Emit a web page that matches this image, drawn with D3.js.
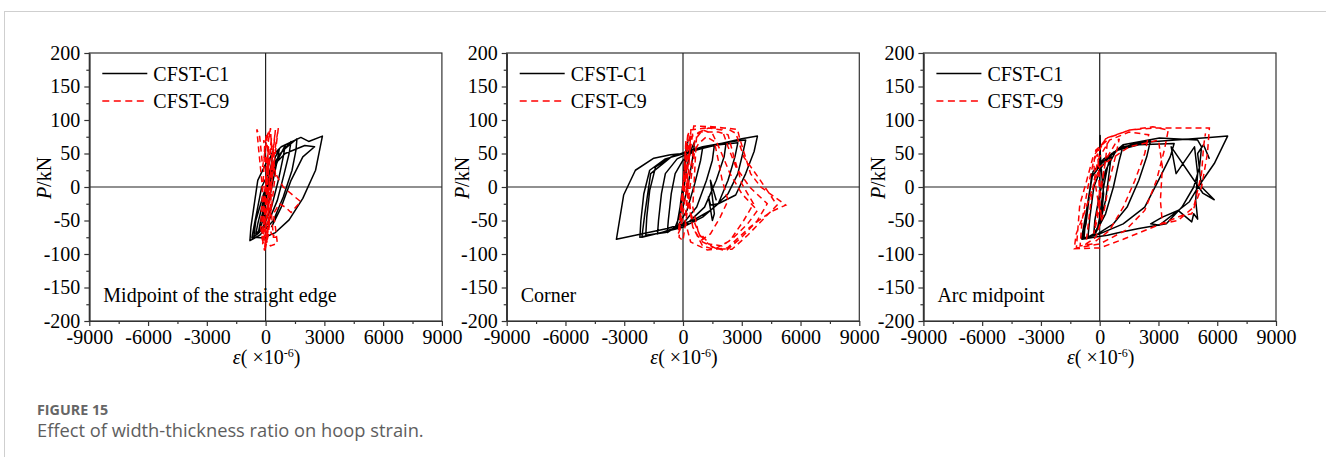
<!DOCTYPE html>
<html><head><meta charset="utf-8">
<script src="https://cdn.jsdelivr.net/npm/d3@7"></script>
<style>
html,body{margin:0;padding:0;background:#fff;}
svg{display:block;}
</style></head>
<body>
<svg id="c" width="1326" height="457"></svg>
<script>
// ---------- data ----------
const panelNames = ["Midpoint of the straight edge", "Corner", "Arc midpoint"];
const seriesNames = ["CFST-C1", "CFST-C9"];
const xTicks = [-9000, -6000, -3000, 0, 3000, 6000, 9000];
const yTicks = [-200, -150, -100, -50, 0, 50, 100, 150, 200];
const xMinor = [-7500, -4500, -1500, 1500, 4500, 7500];
const yMinor = [-175, -125, -75, -25, 25, 75, 125, 175];

// [strain (x10^-6), P (kN)]
const midC1 = [
[0,0],[100,25],[250,45],[400,55],[300,35],[100,5],[-100,-30],[-200,-50],[-100,-40],[50,-15],[250,20],[500,45],[700,57],[600,40],[350,5],[100,-30],[-200,-55],[-350,-65],[-250,-50],[0,-20],[300,15],[700,45],[1000,62],[900,45],[650,10],[300,-30],[-100,-58],[-500,-70],[-400,-55],[-150,-25],[200,15],[700,48],[1300,68],[1200,50],[950,20],[600,-20],[100,-55],[-400,-70],[-700,-76],[-600,-60],[-400,-30],[-200,0],[300,30],[900,55],[1600,72],[1550,55],[1350,25],[900,-15],[400,-50],[-300,-72],[-800,-80],[-750,-60],[-550,-20],[-400,10],[100,40],[800,60],[1800,74],[2200,68],[2900,76],[2550,25],[1900,-17],[1200,-49],[500,-68],[-100,-76],[-600,-75],[-500,-50],[-100,-10],[500,35],[1000,50],[2000,62],[2500,60],[1900,45],[1300,10],[800,-30],[300,-60]
];
const midC9 = [
[0,0],[80,30],[150,60],[100,30],[0,-10],[-100,-45],[-150,-65],[-50,-40],[80,0],[200,45],[300,75],[250,50],[100,10],[-50,-40],[-200,-75],[-100,-85],[50,-40],[200,10],[400,60],[500,85],[400,55],[200,10],[0,-45],[-150,-85],[-50,-95],[100,-60],[250,-10],[450,40],[650,88],[500,60],[300,20],[150,-30],[0,-75],[-50,-92],[100,-70],[300,-30],[500,20],[300,65],[150,85],[0,60],[-150,30],[-300,75],[-450,86],[-350,55],[-200,10],[-100,-40],[50,-80],[250,-88],[600,-84],[500,-60],[400,-40],[700,-25],[1000,-30],[1300,-38],[1600,-28],[1800,-22],[1500,-15],[900,0],[600,15],[400,30],[200,-10],[100,-50],[300,-70],[600,-75],
[400,-75],[300,-40],[200,10],[100,50],[50,80],[-50,60],[-100,20],[-200,-30],[-250,-60],[-150,-80],[0,-90],[150,-70],[250,-30],[350,20],[300,60],[250,88],[150,70],[50,30],[-50,-10],[-150,-50],[-100,-75],[50,-85],[150,-50],[100,0],[0,45],[-100,70]
];
const cornerC1 = [
[0,0],[50,30],[150,55],[250,70],[150,40],[0,5],[-150,-30],[-300,-55],[-200,-40],[0,-10],[200,30],[400,55],[600,68],[500,45],[300,10],[0,-30],[-400,-60],[-800,-68],[-750,-50],[-600,-10],[-400,20],[0,40],[600,55],[1000,58],[900,40],[600,5],[200,-35],[-300,-60],[-1300,-70],[-1250,-50],[-1100,-10],[-900,20],[-300,42],[600,55],[1600,62],[1500,40],[1200,10],[700,-30],[0,-55],[-900,-68],[-1900,-72],[-1850,-45],[-1700,-5],[-1400,30],[-600,45],[500,56],[2200,66],[2100,45],[1700,10],[1100,-30],[200,-55],[-800,-66],[-2200,-75],[-2150,-50],[-2000,-10],[-1700,25],[-900,42],[300,52],[1500,62],[2800,66],[2650,45],[2300,10],[1800,-25],[1000,-45],[0,-60],[-1100,-68],[-2100,-75],[-1950,-40],[-1650,20],[-600,45],[1000,60],[2500,68],[3200,70],[3050,50],[2800,20],[2300,-10],[1400,-35],[500,-50],[-800,-62],[-3400,-78],[-3030,-12],[-2430,25],[-1490,43],[-640,48],[0,50],[1500,62],[3000,72],[3800,76],[3630,53],[3200,20],[2690,-12],[1800,-25],[1410,-27],[1300,-15],[1500,-50],[1600,-40],[1400,10],[1700,-20]
];
const cornerC9 = [
[0,0],[80,35],[150,70],[100,40],[0,0],[-100,-35],[-200,-60],[-100,-45],[50,-10],[200,40],[250,80],[150,50],[0,5],[-150,-45],[-250,-70],[-100,-60],[100,-20],[300,30],[400,85],[250,55],[50,10],[-100,-40],[-200,-75],[0,-80],[200,-40],[400,10],[600,55],[800,65],[1200,75],[1600,68],[1800,40],[2000,10],[2300,-20],[1900,-45],[1400,-70],[900,-80],[500,-60],[300,-20],[200,30],[400,75],[900,82],[1800,82],[2300,78],[2600,45],[3000,5],[3600,-25],[3100,-50],[2400,-80],[1600,-93],[1000,-88],[500,-60],[200,-10],[100,40],[300,85],[1200,88],[2200,88],[2700,80],[3100,45],[3900,12],[4800,-27],[4200,-45],[3300,-72],[2500,-93],[1700,-92],[1000,-82],[400,-40],[200,20],[550,91],[1500,90],[2780,86],[2900,72],[3450,20],[3970,0],[5250,-27],[4480,-37],[3450,-59],[2260,-91],[1240,-94],[390,-82],[100,-50],
[300,10],[600,70],[1000,85],[1500,80],[1900,55],[2400,20],[3000,-10],[3800,-35],[3300,-55],[2600,-75],[2000,-88],[1300,-85],[800,-70],[500,-30],[700,80],[1300,88],[2000,85],[2300,60],[2700,30],[3400,0],[4300,-25],[3800,-50],[3000,-75],[2200,-95],[1500,-90],[900,-70]
];
const arcC1 = [
[0,0],[10,40],[20,77],[30,50],[100,20],[200,-10],[100,-40],[-100,-60],[0,-45],[200,0],[400,30],[600,50],[500,25],[300,-20],[0,-55],[-300,-70],[-250,-50],[0,-10],[300,25],[800,52],[1200,62],[1000,40],[700,0],[300,-40],[-200,-68],[-600,-75],[-500,-45],[-300,0],[100,30],[700,52],[1600,63],[2600,70],[2400,45],[2000,10],[1400,-30],[700,-55],[-100,-70],[-800,-76],[-700,-40],[-400,15],[100,35],[900,55],[2000,63],[3800,65],[3600,45],[3000,10],[2300,-30],[1200,-55],[0,-70],[-930,-77],[-680,-37],[-340,23],[170,38],[1190,63],[3050,73],[5000,70],[5200,60],[5100,30],[4800,0],[4200,-30],[3400,-55],[2000,-62],[1000,-68],[400,-72],[-300,-75],[-900,-78],[-700,-55],[-400,20],[200,42],[1200,60],[2500,67],[5600,74],[6530,76],[5850,35],[5090,3],[4580,-22],[3050,-57],[2600,-55],[3200,-45],[4000,-35],[4700,-52],[4800,-40],[5000,-48],[4900,-20],[5000,20],[4840,60],[3900,20],[3650,60],[5260,-9],[5850,-19],[5200,0],[5000,50],[5300,63],[5600,42]
];
const arcC9 = [
[0,0],[-50,30],[-100,50],[-50,20],[0,-20],[100,-50],[0,-35],[-200,0],[-300,35],[-200,55],[200,65],[400,70],[300,40],[100,0],[-100,-45],[-300,-70],[-200,-50],[0,-10],[300,40],[800,65],[1000,72],[800,45],[500,10],[200,-40],[-200,-75],[-700,-85],[-600,-60],[-400,-10],[-100,40],[500,70],[1500,82],[2500,78],[2300,50],[1800,10],[1200,-30],[500,-65],[-400,-85],[-1000,-88],[-900,-50],[-600,0],[-300,40],[300,72],[1530,85],[2710,90],[3500,85],[3300,55],[2900,10],[2300,-35],[1300,-65],[0,-85],[-1190,-91],[-1020,-27],[-680,8],[-340,45],[340,73],[1530,85],[2700,88],[4240,88],[5600,88],[5500,50],[5200,0],[4700,-40],[4240,-42],[2550,-62],[1200,-78],[0,-91],[-1300,-92],[-1200,-70],[-800,-40],[0,30],[1500,60],[3000,70],[3200,30],[3100,-20],[3200,-55],[4000,-50],[4800,-30],[5200,20],[5300,60],[5400,80]
];

const panelData = [[midC1, midC9], [cornerC1, cornerC9], [arcC1, arcC9]];

// ---------- layout ----------
const svg = d3.select("#c");
const serif = '"Liberation Serif","Times New Roman",serif';
const lefts = [89.3, 506.7, 923.4];
const W = 352.6, plotTop = 53, plotBottom = 321;

// page frame lines
svg.append("line").attr("x1",4).attr("x2",1326).attr("y1",11.5).attr("y2",11.5).attr("stroke","#cfcfcf").attr("stroke-width",1);
svg.append("line").attr("x1",4.5).attr("x2",4.5).attr("y1",11).attr("y2",457).attr("stroke","#cfcfcf").attr("stroke-width",1);

panelNames.forEach((name, i) => {
  const L = lefts[i];
  const x = d3.scaleLinear().domain([-9000, 9000]).range([L, L + W]);
  const y = d3.scaleLinear().domain([-200, 200]).range([plotBottom, plotTop]);
  const g = svg.append("g");

  // frame
  g.append("rect").attr("x", L).attr("y", plotTop).attr("width", W).attr("height", plotBottom - plotTop)
    .attr("fill", "none").attr("stroke", "#333").attr("stroke-width", 1.2);
  // zero lines
  g.append("line").attr("x1", x(0)).attr("x2", x(0)).attr("y1", plotTop).attr("y2", plotBottom).attr("stroke", "#222").attr("stroke-width", 1.2);
  g.append("line").attr("x1", L).attr("x2", L + W).attr("y1", y(0)).attr("y2", y(0)).attr("stroke", "#222").attr("stroke-width", 1.2);

  // axes
  g.append("g").attr("transform", `translate(0,${plotBottom})`)
    .call(d3.axisBottom(x).tickValues(xTicks).tickSize(5).tickSizeOuter(0).tickPadding(4).tickFormat(d => String(d)));
  g.append("g").attr("transform", `translate(0,${plotBottom})`)
    .call(d3.axisBottom(x).tickValues(xMinor).tickSize(3).tickSizeOuter(0).tickFormat(""));
  g.append("g").attr("transform", `translate(${L},0)`)
    .call(d3.axisLeft(y).tickValues(yTicks).tickSize(5).tickSizeOuter(0).tickPadding(4).tickFormat(d => String(d)));
  g.append("g").attr("transform", `translate(${L},0)`)
    .call(d3.axisLeft(y).tickValues(yMinor).tickSize(3).tickSizeOuter(0).tickFormat(""));
  g.selectAll(".domain").attr("stroke", "#333").attr("stroke-width", 1.2);
  g.selectAll(".tick line").attr("stroke", "#333").attr("stroke-width", 1.2);
  g.selectAll(".tick text").attr("font-family", serif).attr("font-size", 20).attr("fill", "#000");

  // data
  const line = d3.line().x(d => x(d[0])).y(d => y(d[1]));
  const [c1, c9] = panelData[i];
  g.append("path").datum(c1).attr("d", line).attr("fill", "none").attr("stroke", "#000").attr("stroke-width", 1.5).attr("stroke-linejoin","round");
  g.append("path").datum(c9).attr("d", line).attr("fill", "none").attr("stroke", "#ff0000").attr("stroke-width", 1.5).attr("stroke-dasharray", "6,4");

  // legend
  const lg = g.append("g").attr("font-family", serif).attr("font-size", 20);
  lg.append("line").attr("x1", L + 13).attr("x2", L + 58).attr("y1", 73.5).attr("y2", 73.5).attr("stroke", "#000").attr("stroke-width", 1.5);
  lg.append("text").attr("x", L + 64).attr("y", 80.5).text(seriesNames[0]);
  lg.append("line").attr("x1", L + 13).attr("x2", L + 58).attr("y1", 101).attr("y2", 101).attr("stroke", "#ff0000").attr("stroke-width", 1.5).attr("stroke-dasharray", "7,4.5");
  lg.append("text").attr("x", L + 64).attr("y", 108).text(seriesNames[1]);

  // panel label
  g.append("text").attr("x", L + 14).attr("y", 302).attr("font-family", serif).attr("font-size", 20).text(name);

  // axis titles
  const xt = g.append("text").attr("x", x(0) + 1).attr("y", 364).attr("text-anchor", "middle")
    .attr("font-family", serif).attr("font-size", 20);
  xt.append("tspan").attr("font-style", "italic").text("ε");
  xt.append("tspan").text("( ×10");
  xt.append("tspan").attr("font-size", 12).attr("dy", -7).text("-6");
  xt.append("tspan").attr("dy", 7).text(")");

  const yt = g.append("text").attr("transform", `translate(${L - 38},178) rotate(-90)`).attr("text-anchor", "middle")
    .attr("font-family", serif).attr("font-size", 20);
  yt.append("tspan").attr("font-style", "italic").text("P");
  yt.append("tspan").text("/kN");
});

// caption
svg.append("text").attr("x", 37).attr("y", 415).attr("font-family", '"Open Sans",sans-serif').attr("font-weight", "bold")
  .attr("font-size", 14.3).attr("fill", "#666").text("FIGURE 15");
svg.append("text").attr("x", 37).attr("y", 437).attr("font-family", '"Open Sans",sans-serif')
  .attr("font-size", 18.3).attr("fill", "#5e5e5e").text("Effect of width-thickness ratio on hoop strain.");
</script>
</body></html>
